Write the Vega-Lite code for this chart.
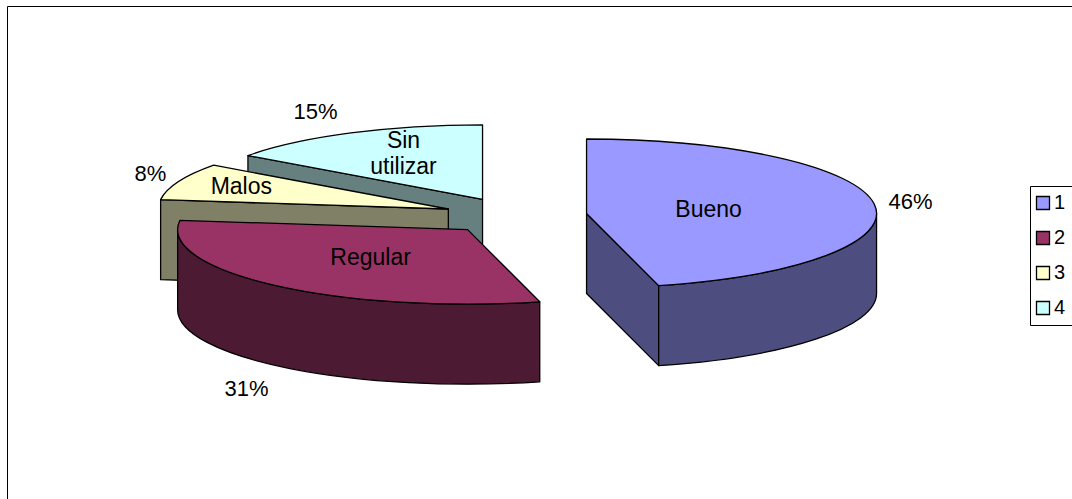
{
  "$schema": "https://vega.github.io/schema/vega-lite/v6.json",
  "width": 1065,
  "height": 493,
  "autosize": {"type": "none"},
  "padding": {"left": 7, "top": 6, "right": 0, "bottom": 0},
  "background": "#ffffff",
  "view": {"stroke": "#000000", "strokeWidth": 1, "fill": "#ffffff"},
  "params": [
    {"name": "rx", "value": 290},
    {"name": "ry", "value": 74.5},
    {"name": "depth", "value": 80},
    {"name": "cx", "value": 515.2},
    {"name": "cy", "value": 215.8},
    {"name": "explode", "value": 0.248}
  ],
  "data": {
    "values": [
      {"serie": "1", "nombre": "Bueno", "pct": 46},
      {"serie": "2", "nombre": "Regular", "pct": 31},
      {"serie": "3", "nombre": "Malos", "pct": 8},
      {"serie": "4", "nombre": "Sin\nutilizar", "pct": 15}
    ]
  },
  "transform": [
    {"stack": "pct", "groupby": [], "sort": [{"field": "serie", "order": "ascending"}], "as": ["p0", "p1"]},
    {"calculate": "datum.p0 / 100 * 2 * PI", "as": "a0"},
    {"calculate": "datum.p1 / 100 * 2 * PI", "as": "a1"},
    {"calculate": "(datum.a0 + datum.a1) / 2", "as": "mid"},
    {"calculate": "cx + explode * rx * sin(datum.mid)", "as": "apexX"},
    {"calculate": "cy - explode * ry * cos(datum.mid)", "as": "apexY"},
    {"calculate": "round(rx * sin(datum.a0) * 100) / 100", "as": "x0"},
    {"calculate": "round(-ry * cos(datum.a0) * 100) / 100", "as": "y0"},
    {"calculate": "round(rx * sin(datum.a1) * 100) / 100", "as": "x1"},
    {"calculate": "round(-ry * cos(datum.a1) * 100) / 100", "as": "y1"},
    {"calculate": "'M0,0 L' + datum.x0 + ',' + datum.y0 + ' A' + rx + ',' + ry + ' 0 ' + (datum.a1 - datum.a0 > PI ? 1 : 0) + ' 1 ' + datum.x1 + ',' + datum.y1 + ' Z'", "as": "topPath"},
    {"calculate": "max(datum.a0, PI / 2)", "as": "lo"},
    {"calculate": "min(datum.a1, 3 * PI / 2)", "as": "hi"},
    {"calculate": "round(rx * sin(datum.lo) * 100) / 100", "as": "xlo"},
    {"calculate": "round(rx * sin(datum.hi) * 100) / 100", "as": "xhi"},
    {"calculate": "round(-ry * cos(datum.lo) * 100) / 100", "as": "ylo"},
    {"calculate": "round(-ry * cos(datum.hi) * 100) / 100", "as": "yhi"},
    {"calculate": "(sin(datum.a0) < -0.001 ? 'M0,0 L' + datum.x0 + ',' + datum.y0 + ' L' + datum.x0 + ',' + (datum.y0 + depth) + ' L0,' + depth + ' Z ' : '') + (sin(datum.a1) > 0.001 ? 'M0,0 L' + datum.x1 + ',' + datum.y1 + ' L' + datum.x1 + ',' + (datum.y1 + depth) + ' L0,' + depth + ' Z ' : '') + (datum.lo < datum.hi ? 'M' + datum.xlo + ',' + datum.ylo + ' A' + rx + ',' + ry + ' 0 0 1 ' + datum.xhi + ',' + datum.yhi + ' L' + datum.xhi + ',' + (datum.yhi + depth) + ' A' + rx + ',' + ry + ' 0 0 0 ' + datum.xlo + ',' + (datum.ylo + depth) + ' Z' : '')", "as": "sidePath"},
    {"calculate": "datum.apexX + (datum.serie == '1' ? 122 : datum.serie == '2' ? -97 : datum.serie == '3' ? -207 : -79)", "as": "nameX"},
    {"calculate": "datum.apexY + (datum.serie == '1' ? -3 : datum.serie == '2' ? 28 : datum.serie == '3' ? -22 : -58)", "as": "nameY"},
    {"calculate": "datum.apexX + (datum.serie == '1' ? 324 : datum.serie == '2' ? -221 : datum.serie == '3' ? -298 : -167)", "as": "pctX"},
    {"calculate": "datum.apexY + (datum.serie == '1' ? -11 : datum.serie == '2' ? 159 : datum.serie == '3' ? -35 : -87)", "as": "pctY"},
    {"calculate": "datum.pct + '%'", "as": "pctLabel"},
    {"calculate": "5 - toNumber(datum.serie)", "as": "drawOrder"}
  ],
  "layer": [
    {
      "mark": {"type": "point", "filled": true, "opacity": 1, "stroke": "#000000", "strokeWidth": 1.3, "strokeJoin": "round"},
      "encoding": {
        "x": {"field": "apexX", "type": "quantitative", "axis": null, "scale": {"domain": [7, 1072], "nice": false, "zero": false}},
        "y": {"field": "apexY", "type": "quantitative", "axis": null, "scale": {"domain": [6, 499], "reverse": true, "nice": false, "zero": false}},
        "shape": {"field": "sidePath", "type": "nominal", "scale": null, "legend": null},
        "size": {"value": 4},
        "order": {"field": "drawOrder", "type": "quantitative"},
        "fill": {"field": "serie", "type": "nominal", "legend": null, "scale": {"domain": ["1", "2", "3", "4"], "range": ["#4d4d80", "#4d1a33", "#808066", "#668080"]}}
      }
    },
    {
      "mark": {"type": "point", "filled": true, "opacity": 1, "stroke": "#000000", "strokeWidth": 1.3, "strokeJoin": "round"},
      "encoding": {
        "x": {"field": "apexX", "type": "quantitative", "axis": null, "scale": {"domain": [7, 1072], "nice": false, "zero": false}},
        "y": {"field": "apexY", "type": "quantitative", "axis": null, "scale": {"domain": [6, 499], "reverse": true, "nice": false, "zero": false}},
        "shape": {"field": "topPath", "type": "nominal", "scale": null, "legend": null},
        "size": {"value": 4},
        "fill": {
          "field": "serie",
          "type": "nominal",
          "scale": {"domain": ["1", "2", "3", "4"], "range": ["#9999ff", "#993366", "#ffffcc", "#ccffff"]},
          "legend": {
            "title": null,
            "orient": "none",
            "legendX": 1023,
            "legendY": 180,
            "symbolType": "square",
            "symbolSize": 169,
            "symbolOffset": -4,
            "symbolStrokeColor": "#000000",
            "symbolStrokeWidth": 1.3,
            "symbolOpacity": 1,
            "labelFont": "Liberation Sans",
            "labelFontSize": 20,
            "labelOffset": 1,
            "labelColor": "#000000",
            "rowPadding": 15,
            "padding": 7,
            "strokeColor": "#000000",
            "fillColor": "#ffffff"
          }
        }
      }
    },
    {
      "mark": {"type": "text", "font": "Liberation Sans", "fontSize": 23, "color": "#000000", "lineBreak": "\n", "lineHeight": 26, "baseline": "middle", "align": "center"},
      "encoding": {
        "x": {"field": "nameX", "type": "quantitative", "axis": null, "scale": {"domain": [7, 1072], "nice": false, "zero": false}},
        "y": {"field": "nameY", "type": "quantitative", "axis": null, "scale": {"domain": [6, 499], "reverse": true, "nice": false, "zero": false}},
        "text": {"field": "nombre", "type": "nominal"}
      }
    },
    {
      "mark": {"type": "text", "font": "Liberation Sans", "fontSize": 22, "color": "#000000", "baseline": "middle", "align": "center"},
      "encoding": {
        "x": {"field": "pctX", "type": "quantitative", "axis": null, "scale": {"domain": [7, 1072], "nice": false, "zero": false}},
        "y": {"field": "pctY", "type": "quantitative", "axis": null, "scale": {"domain": [6, 499], "reverse": true, "nice": false, "zero": false}},
        "text": {"field": "pctLabel", "type": "nominal"}
      }
    }
  ],
  "resolve": {"scale": {"fill": "independent"}}
}
